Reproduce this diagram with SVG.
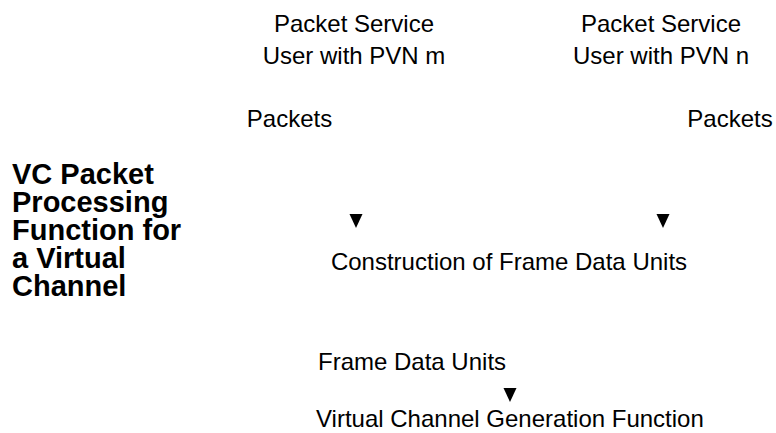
<svg xmlns="http://www.w3.org/2000/svg" width="776" height="433" viewBox="0 0 776 433">
<style>
text{font-family:"Liberation Sans",Arial,sans-serif;font-size:24px;fill:#000}
.c{text-anchor:middle}
.t{font-weight:bold;font-size:29px}
.ah{fill:#000}
</style>
<rect width="776" height="433" fill="#fff"/>
<g id="title">
<text class="t" x="12" y="184">VC Packet<tspan x="12" dy="28">Processing</tspan><tspan x="12" dy="28">Function for</tspan><tspan x="12" dy="28">a Virtual</tspan><tspan x="12" dy="28">Channel</tspan></text>
</g>
<g id="user-m">
<text class="c" x="354" y="32">Packet Service</text>
<text class="c" x="354" y="64">User with PVN m</text>
</g>
<g id="user-n">
<text class="c" x="661" y="32">Packet Service</text>
<text class="c" x="661" y="64">User with PVN n</text>
</g>
<g id="packets-m"><text class="c" x="289.5" y="127">Packets</text></g>
<g id="packets-n"><text class="c" x="730" y="127">Packets</text></g>
<g id="construction"><text class="c" x="509" y="270">Construction of Frame Data Units</text></g>
<g id="fdu"><text x="318" y="370">Frame Data Units</text></g>
<g id="vcgf"><text x="316" y="427">Virtual Channel Generation Function</text></g>
<g id="connectors">
<polygon class="ah" points="349.5,214 362.5,214 356,228"/>
<polygon class="ah" points="656.5,214 669.5,214 663,228"/>
<polygon class="ah" points="503.5,388 516.5,388 510,402"/>
</g>
</svg>
